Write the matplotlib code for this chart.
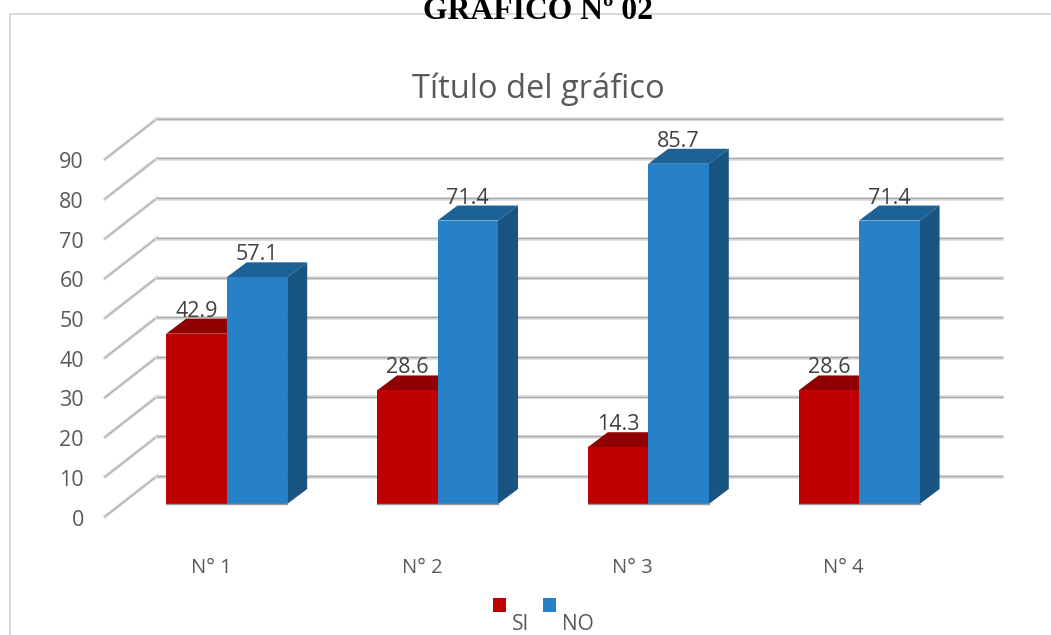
import matplotlib
matplotlib.use("Agg")
import matplotlib.pyplot as plt
from matplotlib.patches import Polygon, Rectangle

categories = ['N° 1', 'N° 2', 'N° 3', 'N° 4']
si_values = [42.9, 28.6, 14.3, 28.6]
no_values = [57.1, 71.4, 85.7, 71.4]
y_ticks = [0, 10, 20, 30, 40, 50, 60, 70, 80, 90]

W, H = 1051, 635
PX_X = 210.8   # px per category
PX_Y = 3.97    # px per unit of value
X0, Y0 = 226.7, 504.0  # px of first category / value 0 on the bar plane


def dx(px):
    return px / PX_X


def dy(px):
    return px / PX_Y


def draw_bar(ax, left, width, value, front, top, side):
    ddx, ddy = dx(20), dy(15)
    ax.add_patch(Polygon([(left, value), (left + ddx, value + ddy),
                          (left + width + ddx, value + ddy), (left + width, value)],
                         fc=top, ec='none', zorder=3))
    ax.add_patch(Polygon([(left + width, 0), (left + width + ddx, ddy),
                          (left + width + ddx, value + ddy), (left + width, value)],
                         fc=side, ec='none', zorder=3))
    ax.add_patch(Rectangle((left, 0), width, value, fc=front, ec='none', zorder=4))
    ax.plot([left, left + width], [0, 0], color='#9a9a9a', lw=1, zorder=5)


fig = plt.figure(figsize=(W / 100, H / 100), dpi=100)
ax = fig.add_axes([0, 0, 1, 1])
ax.set_xlim(-X0 / PX_X, (W - X0) / PX_X)
ax.set_ylim((Y0 - H) / PX_Y, Y0 / PX_Y)
ax.axis('off')

# chart frame, only left and top show up in the picture
xl, xr = dx(10 - X0), dx(1051 - X0)
yt, yb = dy(Y0 - 14), dy(Y0 - 636)
ax.plot([xl, xl, xr], [yb, yt, yt], color='#d9d9d9', lw=1.4, zorder=1)

# grid: back wall lines plus the slanted side wall
back_l, back_r = dx(157 - X0), dx(1002 - X0)
front_l = dx(105 - X0)
for t in y_ticks:
    back = t + dy(28)
    front = t - dy(12.5)
    ax.plot([front_l, back_l], [front, back], color='#dcdcdc', lw=2.4, zorder=2)
    ax.plot([front_l, back_l], [front, back], color='#b0b0b0', lw=0.9, zorder=2)
    ax.plot([back_l, back_r], [back - dy(0.7), back - dy(0.7)], color='#dcdcdc', lw=2.6, zorder=2)
    ax.plot([back_l, back_r], [back, back], color='#ababab', lw=1.0, zorder=2)
    ax.text(dx(84 - X0), t - dy(16), str(t), ha='right', va='center',
            fontsize=15.5, color='#595959', family='Open Sans')

bar_w = dx(60.5)
for i, cat in enumerate(categories):
    draw_bar(ax, i - bar_w, bar_w, si_values[i], '#c00000', '#900000', '#900000')
    draw_bar(ax, i, bar_w, no_values[i], '#2681c8', '#1c6296', '#195582')
    ax.text(i - bar_w / 2, si_values[i] + dy(12), f'{si_values[i]:.1f}', ha='center',
            va='bottom', fontsize=15.5, color='#404040', family='Open Sans', zorder=6)
    ax.text(i + bar_w / 2, no_values[i] + dy(12), f'{no_values[i]:.1f}', ha='center',
            va='bottom', fontsize=15.5, color='#404040', family='Open Sans', zorder=6)
    ax.text(i - dx(15.5), dy(Y0 - 568), cat, ha='center', va='center',
            fontsize=14.5, color='#595959', family='Open Sans')

# legend
ax.add_patch(Rectangle((dx(493 - X0), dy(Y0 - 612)), dx(13), dy(14), fc='#c00000', ec='none'))
ax.add_patch(Rectangle((dx(543 - X0), dy(Y0 - 612)), dx(13), dy(14), fc='#2681c8', ec='none'))
ax.text(dx(520.5 - X0), dy(Y0 - 624), 'SI', ha='center', va='center', fontsize=15,
        color='#595959', family='Open Sans')
ax.text(dx(577.5 - X0), dy(Y0 - 624), 'NO', ha='center', va='center', fontsize=15,
        color='#595959', family='Open Sans')

# titles
ax.text(dx(538.5 - X0), dy(Y0 - 89), 'Título del gráfico', ha='center', va='center',
        fontsize=23.5, color='#595959', family='Open Sans')
ax.text(dx(538 - X0), dy(Y0 - 11.5), 'GRÁFICO Nº 02', ha='center', va='center', fontsize=22.8,
        fontweight='bold', color='black', family='Liberation Serif', zorder=7)

fig.savefig('out.png', dpi=100)
